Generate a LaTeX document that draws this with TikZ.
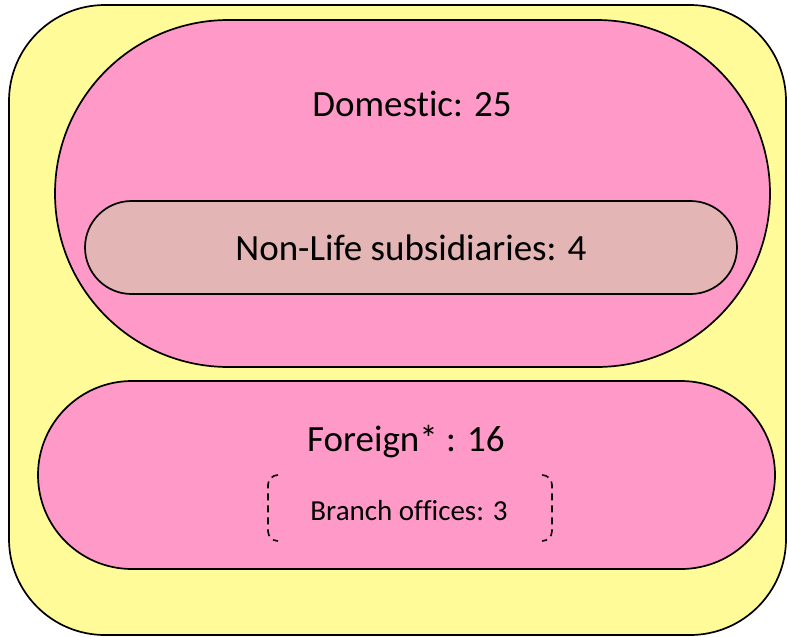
\documentclass[tikz,border=0pt]{standalone}
\usepackage{fontspec}
\setmainfont{Carlito}[Ligatures=NoCommon]
\usetikzlibrary{shapes.misc}
\definecolor{yel}{HTML}{FFFB99}
\definecolor{pnk}{HTML}{FF99C8}
\definecolor{rose}{HTML}{E3B5B5}
\tikzset{
  stadium/.style={rounded rectangle, draw=black, line width=1.7pt, inner sep=0pt},
  bigtext/.style={font=\fontsize{37}{44}\selectfont, anchor=base, inner sep=0pt},
  smalltext/.style={font=\fontsize{29}{35}\selectfont, anchor=base, inner sep=0pt},
  bracketline/.style={line width=1.6pt, dash pattern=on 7pt off 5pt}
}
\begin{document}
\begin{tikzpicture}[x=1pt,y=-1pt]
\useasboundingbox (0,0) rectangle (787,637);
\draw[fill=yel, line width=1.7pt, rounded corners=96pt] (9,5) rectangle (786,635);
\node[stadium, fill=pnk, minimum width=715pt, minimum height=347pt] (dom) at (412.5,193.5) {};
\node[stadium, fill=rose, minimum width=652pt, minimum height=93pt] (nonlife) at (411,247.5) {};
\node[stadium, fill=pnk, minimum width=737pt, minimum height=188pt] (for) at (406.5,475) {};
\node[bigtext] (domt) at (412,116) {Domestic: 25};
\node[bigtext] (nlt) at (411,260) {Non-Life subsidiaries: 4};
\node[bigtext] (fort) at (406,451) {Foreign* : 16};
\node[smalltext] (brt) at (409,520) {Branch offices: 3};
\draw[bracketline] (278,475) arc[start angle=90, end angle=180, radius=10pt] -- (268,531) arc[start angle=180, end angle=270, radius=10pt];
\draw[bracketline] (542,475) arc[start angle=90, end angle=0, radius=10pt] -- (552,531) arc[start angle=0, end angle=-90, radius=10pt];
\end{tikzpicture}
\end{document}
